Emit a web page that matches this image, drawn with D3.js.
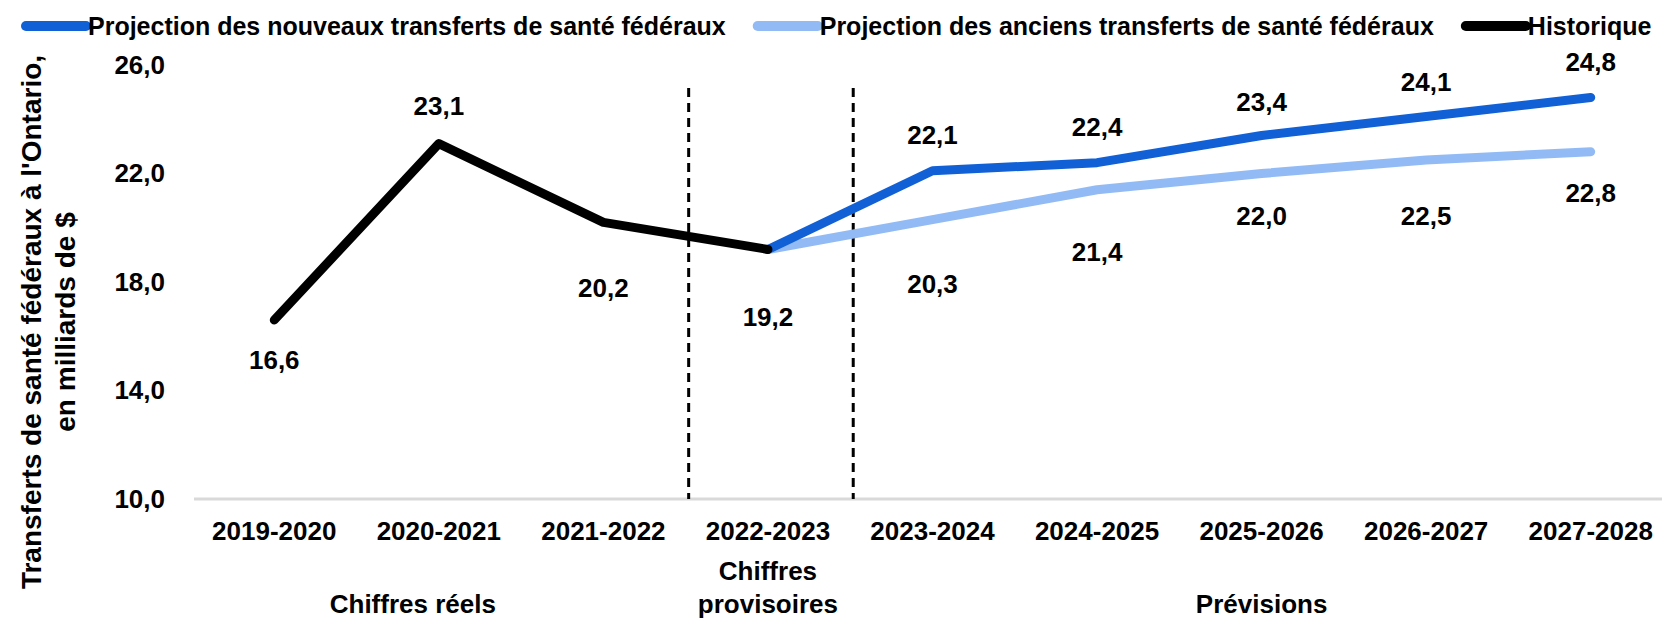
<!DOCTYPE html>
<html lang="fr">
<head>
<meta charset="utf-8">
<script src="https://cdn.jsdelivr.net/npm/d3@7"></script>
<style>
  html, body { margin: 0; padding: 0; background: #fff; }
  svg { display: block; font-family: "Liberation Sans", Arial, sans-serif; font-weight: bold; }
</style>
</head>
<body>
<svg id="chart"></svg>
<script>
// exercices financiers
const categories = ['2019-2020', '2020-2021', '2021-2022', '2022-2023', '2023-2024', '2024-2025', '2025-2026', '2026-2027', '2027-2028'];

// milliards de $
const historique = [16.6, 23.1, 20.2, 19.2, null, null, null, null, null];
const nouveauxTransferts = [null, null, null, 19.2, 22.1, 22.4, 23.4, 24.1, 24.8];
const anciensTransferts = [null, null, null, 19.2, 20.3, 21.4, 22.0, 22.5, 22.8];

const yTicks = [10, 14, 18, 22, 26];

// décalage vertical des étiquettes (px) : négatif = au-dessus
const histLabelDy = [40, -38, 66, 67];
const nouvLabelDy = [null, -36, -36, -34, -35, -36];
const ancLabelDy = [null, 64, 62, 42, 56, 41];

const width = 1662, height = 619;
const margin = { top: 65, right: -11, bottom: 120, left: 192 };

const svg = d3.select('#chart')
    .attr('width', width)
    .attr('height', height);

const x = d3.scaleBand()
    .domain(categories)
    .range([margin.left, width - margin.right])
    .padding(0);

const y = d3.scaleLinear()
    .domain([10, 26])
    .range([height - margin.bottom, margin.top]);

const fmt = v => d3.format('.1f')(v).replace('.', ',');
const cx = c => x(c) + x.bandwidth() / 2;

// axe Y (étiquettes seulement)
const yAxis = d3.axisLeft(y)
    .tickValues(yTicks)
    .tickFormat(fmt)
    .tickSize(0)
    .tickPadding(0);

svg.append('g')
    .attr('class', 'y-axis')
    .attr('transform', `translate(${margin.left - 27},0)`)
    .call(yAxis)
    .call(g => g.select('.domain').remove())
    .selectAll('text')
    .attr('font-size', 26)
    .attr('font-family', null)
    .attr('fill', '#000');

// ligne de base
svg.append('line')
    .attr('x1', margin.left + 2)
    .attr('x2', width)
    .attr('y1', y(10))
    .attr('y2', y(10))
    .attr('stroke', '#d9d9d9')
    .attr('stroke-width', 3);

// axe X
const xAxis = d3.axisBottom(x).tickSize(0).tickPadding(0);
svg.append('g')
    .attr('class', 'x-axis')
    .attr('transform', `translate(0,${y(10) + 23})`)
    .call(xAxis)
    .call(g => g.select('.domain').remove())
    .selectAll('text')
    .attr('dy', '0.71em')
    .attr('font-size', 26)
    .attr('font-family', null)
    .attr('fill', '#000');

// séparateurs pointillés
const separators = [categories[3], categories[4]];
svg.selectAll('.sep')
    .data(separators)
    .join('line')
    .attr('class', 'sep')
    .attr('x1', d => x(d) + 3)
    .attr('x2', d => x(d) + 3)
    .attr('y1', 88)
    .attr('y2', y(10))
    .attr('stroke', '#000')
    .attr('stroke-width', 3)
    .attr('stroke-dasharray', '9,6');

// groupes de périodes
const periodText = svg.append('g')
    .attr('font-size', 26)
    .attr('text-anchor', 'middle')
    .attr('fill', '#000');

periodText.append('text')
    .attr('x', cx(categories[1]) - 26)
    .attr('y', 613)
    .text('Chiffres réels');

periodText.append('text')
    .attr('x', cx(categories[3]))
    .attr('y', 580)
    .text('Chiffres');

periodText.append('text')
    .attr('x', cx(categories[3]))
    .attr('y', 613)
    .text('provisoires');

periodText.append('text')
    .attr('x', cx(categories[6]))
    .attr('y', 613)
    .text('Prévisions');

// titre de l'axe Y
const yTitle = svg.append('text')
    .attr('transform', 'translate(31,322) rotate(-90)')
    .attr('text-anchor', 'middle')
    .attr('font-size', 28)
    .attr('fill', '#000');

yTitle.append('tspan')
    .attr('x', 0)
    .attr('dy', '0.35em')
    .text("Transferts de santé fédéraux à l'Ontario,");

yTitle.append('tspan')
    .attr('x', 0)
    .attr('dy', 34)
    .text('en milliards de $');

// séries
const series = [
    { name: 'Projection des anciens transferts de santé fédéraux', values: anciensTransferts, color: '#92bbf6', dy: ancLabelDy },
    { name: 'Projection des nouveaux transferts de santé fédéraux', values: nouveauxTransferts, color: '#1160d6', dy: nouvLabelDy },
    { name: 'Historique', values: historique, color: '#000000', dy: histLabelDy }
];

const line = d3.line()
    .defined(d => d.v !== null)
    .x(d => cx(d.c))
    .y(d => y(d.v));

series.forEach(s => {
    const pts = categories.map((c, i) => ({ c, v: s.values[i] }));
    svg.append('path')
        .datum(pts)
        .attr('fill', 'none')
        .attr('stroke', s.color)
        .attr('stroke-width', 9)
        .attr('stroke-linecap', 'round')
        .attr('stroke-linejoin', 'round')
        .attr('d', line);
});

// étiquettes de données
series.forEach(s => {
    const pts = categories.map((c, i) => ({ c, v: s.values[i] })).filter(d => d.v !== null);
    svg.append('g')
        .selectAll('text')
        .data(pts.filter((d, i) => s.dy[i] !== null))
        .join('text')
        .attr('x', d => cx(d.c))
        .attr('y', d => y(d.v) + s.dy[pts.indexOf(d)])
        .attr('dy', '0.35em')
        .attr('text-anchor', 'middle')
        .attr('font-size', 26)
        .attr('fill', '#000')
        .text(d => fmt(d.v));
});

// légende
const legendOrder = [series[1], series[0], series[2]];
const legend = svg.append('g').attr('class', 'legend');
let lx = 26;
legendOrder.forEach((s, i) => {
    const g = legend.append('g').attr('transform', `translate(${lx},26)`);
    g.append('line')
        .attr('x1', 0)
        .attr('x2', 60)
        .attr('stroke', s.color)
        .attr('stroke-width', 10)
        .attr('stroke-linecap', 'round');
    const t = g.append('text')
        .attr('x', 62)
        .attr('dy', '0.35em')
        .attr('font-size', 25)
        .attr('fill', '#000')
        .text(s.name);
    lx += 62 + t.node().getComputedTextLength() + 32;
});
</script>
</body>
</html>
